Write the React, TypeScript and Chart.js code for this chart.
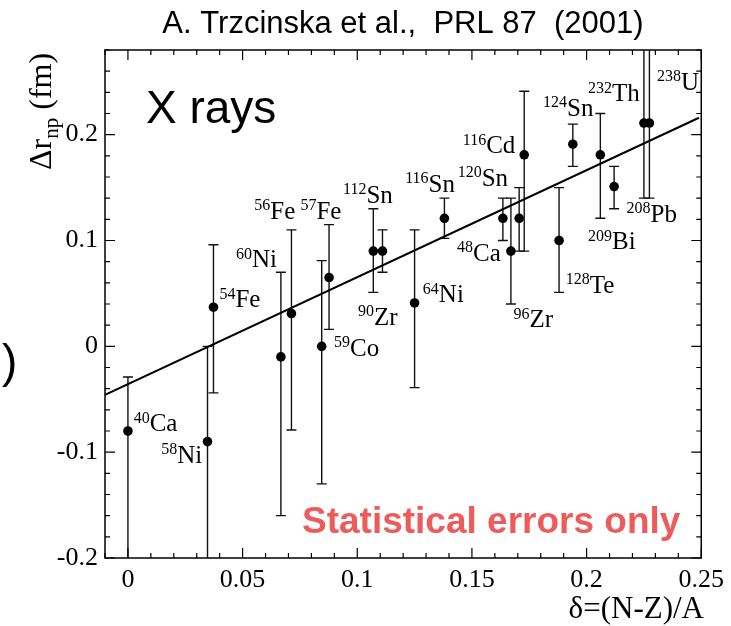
import { useEffect, useRef } from 'react';
import { Chart, registerables } from 'chart.js';

Chart.register(...registerables);

// ---- data ----
const nucleus = ['40Ca', '58Ni', '54Fe', '60Ni', '56Fe', '59Co', '57Fe', '112Sn', '90Zr', '64Ni', '116Sn', '48Ca', '96Zr', '120Sn', '116Cd', '128Te', '124Sn', '209Bi', '208Pb', '232Th', '238U'];
const deltaX = [0.0, 0.0347, 0.0373, 0.0667, 0.0713, 0.0845, 0.0877, 0.107, 0.111, 0.125, 0.138, 0.1635, 0.167, 0.1706, 0.1728, 0.188, 0.194, 0.206, 0.212, 0.225, 0.2274];
const deltaR = [-0.08, -0.09, 0.037, -0.01, 0.031, 0.0, 0.065, 0.09, 0.09, 0.041, 0.121, 0.121, 0.09, 0.121, 0.181, 0.1, 0.191, 0.181, 0.151, 0.211, 0.211];
const errHigh = [-0.029, 0.0, 0.096, 0.07, 0.11, 0.081, 0.115, 0.13, 0.11, 0.11, 0.14, 0.14, 0.14, 0.15, 0.241, 0.15, 0.21, 0.22, 0.17, 0.35, 0.35];
const errLow = [-0.25, -0.25, -0.044, -0.16, -0.079, -0.13, 0.016, 0.051, 0.07, -0.039, 0.102, 0.1, 0.04, 0.09, 0.09, 0.051, 0.17, 0.121, 0.13, 0.14, 0.14];

const fitX = [-0.01, 0.249];
const fitY = [-0.0458, 0.216];

// annotation labels (mass number superscript + element), anchored in data units
const labelMass = ['40', '58', '54', '60', '56', '57', '112', '90', '59', '64', '116', '120', '116', '48', '96', '128', '124', '209', '232', '208', '238'];
const labelElem = ['Ca', 'Ni', 'Fe', 'Ni', 'Fe', 'Fe', 'Sn', 'Zr', 'Co', 'Ni', 'Sn', 'Sn', 'Cd', 'Ca', 'Zr', 'Te', 'Sn', 'Bi', 'Th', 'Pb', 'U'];
const labelX = [0.0025, 0.0145, 0.0399, 0.0471, 0.0551, 0.0752, 0.0938, 0.1003, 0.0899, 0.1286, 0.1209, 0.1438, 0.146, 0.1435, 0.1681, 0.1909, 0.181, 0.2006, 0.2006, 0.2174, 0.2307];
const labelY = [-0.08, -0.11, 0.037, 0.0749, 0.1207, 0.1207, 0.1358, 0.0202, -0.0089, 0.0417, 0.146, 0.1517, 0.1823, 0.0811, 0.018, 0.0505, 0.218, 0.0916, 0.2318, 0.1175, 0.2423];

const xTickValues = [0, 0.05, 0.1, 0.15, 0.2, 0.25];
const xTickLabels = ['0', '0.05', '0.1', '0.15', '0.2', '0.25'];
const yTickValues = [-0.2, -0.1, 0, 0.1, 0.2];
const yTickLabels = ['-0.2', '-0.1', '0', '0.1', '0.2'];

const titleText = 'A. Trzcinska et al.,  PRL 87  (2001)';
const panelText = 'X rays';
const noteText = 'Statistical errors only';
const xTitle = 'δ=(N-Z)/A';

const SERIF = '"Liberation Serif", "DejaVu Serif", serif';
const SANS = '"Liberation Sans", Arial, sans-serif';

const decorPlugin = {
  id: 'decor',
  beforeDatasetsDraw(chart: any) {
    const { ctx, chartArea: a, scales } = chart;
    const x = scales.x;
    const y = scales.y;
    ctx.save();
    ctx.beginPath();
    ctx.rect(a.left, a.top, a.right - a.left, a.bottom - a.top);
    ctx.clip();
    ctx.strokeStyle = '#111';
    ctx.lineWidth = 1.4;
    for (let i = 0; i < deltaX.length; i++) {
      const px = x.getPixelForValue(deltaX[i]);
      const pu = y.getPixelForValue(errHigh[i]);
      const pl = y.getPixelForValue(errLow[i]);
      ctx.beginPath();
      ctx.moveTo(px, pu);
      ctx.lineTo(px, pl);
      ctx.moveTo(px - 5, pu);
      ctx.lineTo(px + 5, pu);
      ctx.moveTo(px - 5, pl);
      ctx.lineTo(px + 5, pl);
      ctx.stroke();
    }
    ctx.restore();
  },
  afterDraw(chart: any) {
    const { ctx, chartArea: a, scales } = chart;
    const x = scales.x;
    const y = scales.y;
    ctx.save();
    // frame
    ctx.strokeStyle = '#000';
    ctx.lineWidth = 1.5;
    ctx.strokeRect(a.left, a.top, a.right - a.left, a.bottom - a.top);
    // ticks (inward, on all four sides)
    ctx.lineWidth = 1.2;
    ctx.beginPath();
    for (let k = -1; k <= 25; k++) {
      const px = x.getPixelForValue(k / 100);
      const len = k % 5 === 0 ? 10 : 5;
      ctx.moveTo(px, a.bottom);
      ctx.lineTo(px, a.bottom - len);
      ctx.moveTo(px, a.top);
      ctx.lineTo(px, a.top + len);
    }
    for (let k = -10; k <= 14; k++) {
      const py = y.getPixelForValue(k / 50);
      const len = k % 5 === 0 ? 10 : 5;
      ctx.moveTo(a.left, py);
      ctx.lineTo(a.left + len, py);
      ctx.moveTo(a.right, py);
      ctx.lineTo(a.right - len, py);
    }
    ctx.stroke();

    // nucleus labels
    ctx.fillStyle = '#000';
    ctx.textBaseline = 'alphabetic';
    ctx.textAlign = 'left';
    for (let i = 0; i < labelMass.length; i++) {
      const lx = x.getPixelForValue(labelX[i]);
      const ly = y.getPixelForValue(labelY[i]);
      ctx.font = `16px ${SERIF}`;
      ctx.fillText(labelMass[i], lx, ly - 8.5);
      const w = ctx.measureText(labelMass[i]).width;
      ctx.font = `25px ${SERIF}`;
      ctx.fillText(labelElem[i], lx + w, ly);
    }

    // title
    ctx.font = `31px ${SANS}`;
    ctx.textAlign = 'center';
    ctx.fillText(titleText, 403, 33);

    // panel text
    ctx.font = `46px ${SANS}`;
    ctx.textAlign = 'left';
    ctx.fillText(panelText, 146, 123);

    // note
    ctx.font = `bold 37px ${SANS}`;
    ctx.fillStyle = '#ee5b5b';
    ctx.fillText(noteText, 302, 533);

    // stray parenthesis at the left edge
    ctx.fillStyle = '#000';
    ctx.font = `46px ${SANS}`;
    ctx.fillText(')', 2, 377);

    // x title
    ctx.font = `31px ${SERIF}`;
    ctx.textAlign = 'right';
    ctx.fillText(xTitle, 704, 618);

    // y title (rotated)
    ctx.translate(51, 170);
    ctx.rotate(-Math.PI / 2);
    ctx.textAlign = 'left';
    ctx.font = `32px ${SERIF}`;
    ctx.fillText('Δr', 0, 0);
    let off = ctx.measureText('Δr').width;
    ctx.font = `21px ${SERIF}`;
    ctx.fillText('np', off, 7);
    off += ctx.measureText('np').width;
    ctx.font = `32px ${SERIF}`;
    ctx.fillText(' (fm)', off, 0);
    ctx.restore();
  },
};

export default function App() {
  const ref = useRef<HTMLCanvasElement | null>(null);
  useEffect(() => {
    document.body.style.margin = '0';
    const canvas = ref.current;
    if (!canvas) return;
    const chart = new Chart(canvas, {
      type: 'scatter',
      data: {
        datasets: [
          {
            type: 'line',
            label: 'fit',
            data: fitX.map((v, i) => ({ x: v, y: fitY[i] })),
            borderColor: '#000',
            borderWidth: 2,
            pointRadius: 0,
            fill: false,
          } as any,
          {
            label: 'data',
            data: deltaX.map((v, i) => ({ x: v, y: deltaR[i] })),
            backgroundColor: '#000',
            borderColor: '#000',
            pointRadius: 4.8,
            pointHoverRadius: 4.8,
            pointBorderWidth: 0,
          },
        ],
      },
      options: {
        animation: false,
        responsive: false,
        devicePixelRatio: 1,
        events: [],
        layout: { padding: { left: 0, top: 50, right: 26, bottom: 0 } },
        plugins: { legend: { display: false }, tooltip: { enabled: false }, title: { display: false } },
        scales: {
          x: {
            type: 'linear',
            min: -0.01,
            max: 0.25,
            grid: { display: false, drawTicks: false },
            border: { display: false },
            afterBuildTicks: (s: any) => {
              s.ticks = xTickValues.map((v) => ({ value: v }));
            },
            afterFit: (s: any) => {
              s.height = 68;
            },
            ticks: {
              autoSkip: false,
              maxRotation: 0,
              padding: 7,
              color: '#000',
              font: { family: SERIF, size: 26 },
              callback: (_v: any, i: number) => xTickLabels[i],
            },
          },
          y: {
            type: 'linear',
            min: -0.2,
            max: 0.28,
            grid: { display: false, drawTicks: false },
            border: { display: false },
            afterBuildTicks: (s: any) => {
              s.ticks = yTickValues.map((v) => ({ value: v }));
            },
            afterFit: (s: any) => {
              s.width = 105;
            },
            ticks: {
              autoSkip: false,
              padding: 7,
              color: '#000',
              font: { family: SERIF, size: 26 },
              callback: (_v: any, i: number) => yTickLabels[i],
            },
          },
        },
      },
      plugins: [decorPlugin],
    });
    return () => chart.destroy();
  }, []);
  return (
    <div style={{ width: 731, height: 626, background: '#fff' }}>
      <canvas ref={ref} width={731} height={626} style={{ display: 'block' }} />
    </div>
  );
}
